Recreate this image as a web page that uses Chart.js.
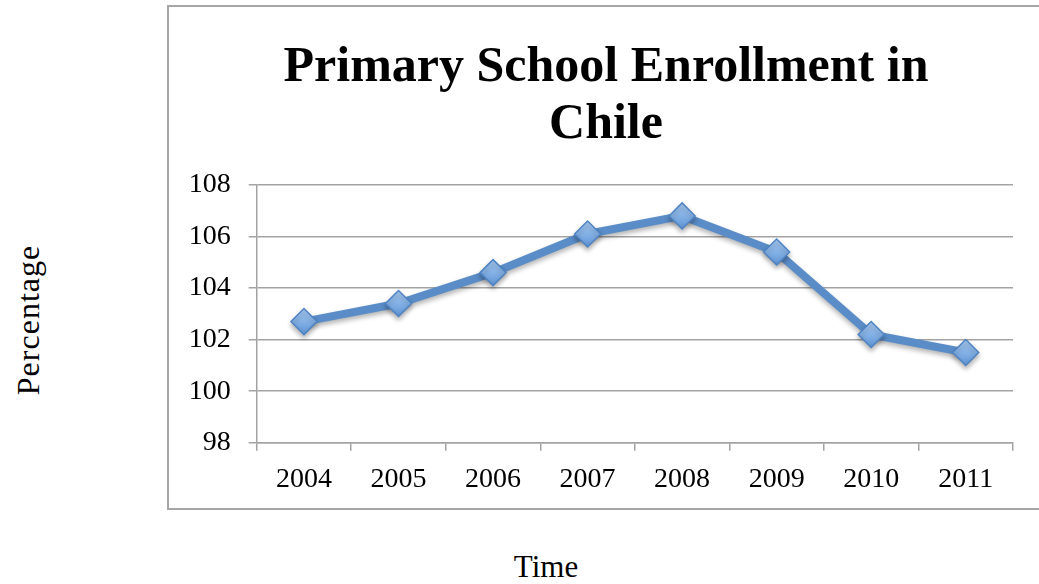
<!DOCTYPE html>
<html>
<head>
<meta charset="utf-8">
<title>Primary School Enrollment in Chile</title>
<script src="https://cdn.jsdelivr.net/npm/chart.js@4.4.1/dist/chart.umd.min.js"></script>
<style>
  body { margin: 0; background: #fff; width: 1039px; height: 584px; overflow: hidden; position: relative; font-family: "Liberation Serif", serif; }
  #box { position: absolute; left: 167px; top: 5px; width: 900px; height: 505px; border: 2px solid #a6a6a6; box-sizing: border-box; }
  #wrap { position: absolute; left: 169px; top: 7px; width: 870px; height: 501px; }
  #ylab { position: absolute; left: 28px; top: 320px; transform: translate(-50%, -50%) rotate(-90deg); font-size: 32px; letter-spacing: 1px; white-space: nowrap; }
  #xlab { position: absolute; left: 546px; top: 567px; transform: translate(-50%, -50%); font-size: 31px; white-space: nowrap; }
</style>
</head>
<body>
<div id="box"></div>
<div id="wrap"><canvas id="chart" width="870" height="501"></canvas></div>
<div id="ylab">Percentage</div>
<div id="xlab">Time</div>
<script>
// data
const years = ['2004', '2005', '2006', '2007', '2008', '2009', '2010', '2011'];
const enrollment = [102.7, 103.4, 104.6, 106.1, 106.8, 105.4, 102.2, 101.5];
const yMin = 98, yMax = 108, yStep = 2;
const titleLines = ['Primary School Enrollment in', 'Chile'];

const FONT = 'Liberation Serif';
const GRID = '#a3a3a3';

// soft drop shadow under line + markers
const shadowPlugin = {
  id: 'shadow',
  beforeDatasetsDraw(chart) {
    const c = chart.ctx;
    c.save();
    c.shadowColor = 'rgba(0,0,0,0.3)';
    c.shadowBlur = 5;
    c.shadowOffsetY = 3;
  },
  afterDatasetsDraw(chart) {
    chart.ctx.restore();
  }
};

// title is centred on the framed box, not on the canvas left edge
const titleShift = {
  id: 'titleShift',
  afterLayout(chart) {
    if (chart.titleBlock) chart.titleBlock.left += 18;
  }
};

function markerFill(ctx) {
  const chart = ctx.chart, ys = chart.scales.y;
  if (!ys || !chart.chartArea || ctx.raw == null) return '#7eaee6';
  const py = ys.getPixelForValue(ctx.raw);
  if (!isFinite(py)) return '#7eaee6';
  const g = chart.ctx.createLinearGradient(0, py - 13, 0, py + 13);
  g.addColorStop(0, '#a9cdf5');
  g.addColorStop(1, '#5f95d6');
  return g;
}

new Chart(document.getElementById('chart').getContext('2d'), {
  type: 'line',
  data: {
    labels: years,
    datasets: [{
      data: enrollment,
      borderColor: '#5a8dc8',
      borderWidth: 8,
      tension: 0,
      pointStyle: 'rectRot',
      pointRadius: 13,
      pointBackgroundColor: markerFill,
      pointBorderColor: '#4f84c4',
      pointBorderWidth: 1.5,
      clip: false
    }]
  },
  plugins: [shadowPlugin, titleShift],
  options: {
    responsive: false,
    animation: false,
    layout: { padding: { left: 12, right: 26, top: 0, bottom: 0 } },
    plugins: {
      legend: { display: false },
      tooltip: { enabled: false },
      title: {
        display: true,
        text: titleLines,
        color: '#000',
        font: { family: FONT, size: 50, weight: 'bold', lineHeight: 1.14 },
        padding: { top: 33, bottom: 31 }
      }
    },
    scales: {
      x: {
        offset: true,
        grid: { offset: true, drawOnChartArea: false, drawTicks: true, tickLength: 8, color: GRID, lineWidth: 1.5 },
        border: { display: true, color: GRID, width: 1.5 },
        ticks: { color: '#000', font: { family: FONT, size: 28 }, padding: 12, maxRotation: 0, autoSkip: false },
        afterFit: s => { s.height = 65.3; }
      },
      y: {
        min: yMin,
        max: yMax,
        grid: { color: GRID, lineWidth: 1.5, tickLength: 8 },
        border: { display: true, color: GRID, width: 1.5 },
        ticks: { stepSize: yStep, color: '#000', font: { family: FONT, size: 28 }, padding: 18 },
        afterFit: s => { s.width = 75.7; }
      }
    }
  }
});
</script>
</body>
</html>
